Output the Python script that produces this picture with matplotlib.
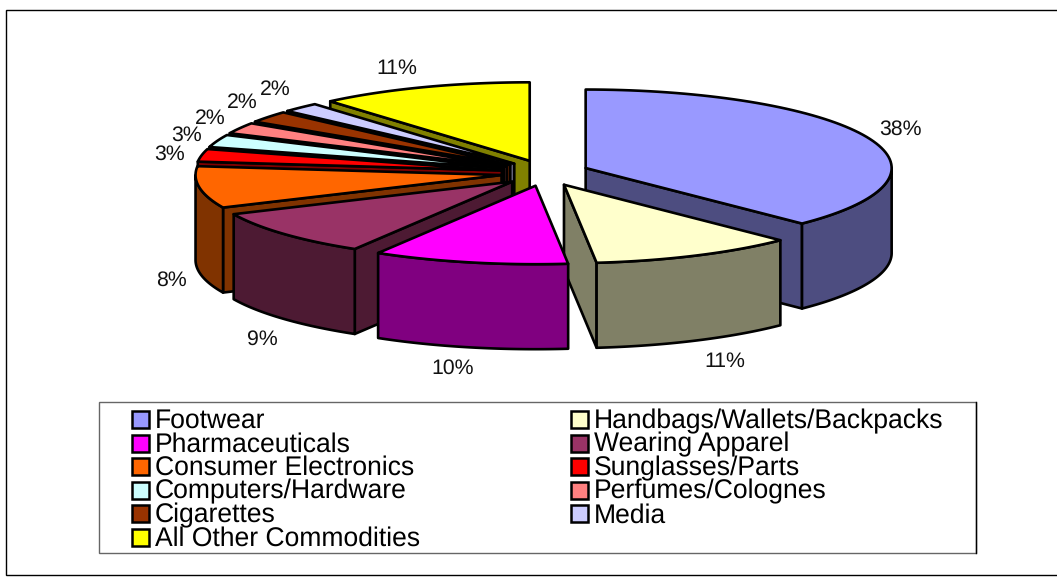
import numpy as np
import matplotlib
matplotlib.use('Agg')
import matplotlib.pyplot as plt
from matplotlib.patches import Polygon, Rectangle

plt.rcParams['font.family'] = ['Liberation Sans', 'DejaVu Sans']
plt.rcParams['text.hinting'] = 'none'

categories = ['Footwear', 'Handbags/Wallets/Backpacks', 'Pharmaceuticals', 'Wearing Apparel',
              'Consumer Electronics', 'Sunglasses/Parts', 'Computers/Hardware', 'Perfumes/Colognes',
              'Cigarettes', 'Media', 'All Other Commodities']
# printed labels, and the shares as the drawn slice angles actually read
pct_labels = [38, 11, 10, 9, 8, 3, 3, 2, 2, 2, 11]
shares = [37.5, 10.8, 10.3, 9.6, 8.6, 2.6, 2.6, 2.3, 2.4, 2.0, 11.3]
top_colors = ['#9999FF', '#FFFFCC', '#FF00FF', '#993366', '#FF6600', '#FF0000',
              '#CCFFFF', '#FF8080', '#993300', '#CCCCFF', '#FFFF00']
side_colors = ['#4D4D80', '#808066', '#800080', '#4D1A33', '#803300', '#800000',
               '#668080', '#804040', '#4D1A00', '#666680', '#808000']

# layout in image pixels
W, H = 1057, 581
cx, cy = 545, 173
rx, ry = 306, 78.5
explode_x, explode_y = 44, 13
depth = 85
label_xy = [(900, 129), (725, 361), (453, 368), (262, 339), (171, 280), (170, 154),
            (187, 135), (210, 118), (242, 102), (275, 89), (397, 68)]

fig = plt.figure(figsize=(W / 100, H / 100), dpi=100)
ax = fig.add_axes([0, 0, 1, 1])
ax.set_xlim(0, W)
ax.set_ylim(H, 0)
ax.axis('off')

# right side of the frame runs off the image
ax.add_patch(Rectangle((6, 9.5), W + 10, 565.5, fc='white', ec='black', lw=1.0))


def rim(ox, oy, a0, a1, n=80):
    # angles in degrees, clockwise from 12 o'clock
    t = np.radians(np.linspace(a0, a1, n))
    return np.column_stack([ox + rx * np.sin(t), oy - ry * np.cos(t)])


def face(pts, color, z):
    ax.add_patch(Polygon(pts, closed=True, fc=color, ec='black', lw=1.9, joinstyle='round', zorder=z))


def extrude(pts):
    low = pts[::-1] + [0, depth]
    return np.vstack([pts, low])


edges = np.cumsum([0] + shares) / sum(shares) * 360
mids = (edges[:-1] + edges[1:]) / 2

# back slices first, the front ones paint over them
order = np.argsort(-np.cos(np.radians(mids)))
for z, i in enumerate(order):
    a0, a1 = edges[i], edges[i + 1]
    m = np.radians(mids[i])
    ox = cx + explode_x * np.sin(m)
    oy = cy - explode_y * np.cos(m)
    apex = np.array([[ox, oy]])
    z0 = 2 + z * 0.1
    if np.sin(np.radians(a0)) < 0:
        face(extrude(np.vstack([apex, rim(ox, oy, a0, a0, 1)])), side_colors[i], z0)
    if np.sin(np.radians(a1)) > 0:
        face(extrude(np.vstack([apex, rim(ox, oy, a1, a1, 1)])), side_colors[i], z0)
    lo, hi = max(a0, 90), min(a1, 270)
    if lo < hi:
        face(extrude(rim(ox, oy, lo, hi)), side_colors[i], z0 + 0.01)
    face(np.vstack([apex, rim(ox, oy, a0, a1)]), top_colors[i], z0 + 0.02)

for p, (x, y) in zip(pct_labels, label_xy):
    ax.text(x, y, f'{p}%', ha='center', va='center', fontsize=15.3, color='#111111', zorder=10)

# legend box, two columns filled row by row
ax.add_patch(Rectangle((99, 402), 877, 151, fc='white', ec='#666666', lw=1.0, zorder=10))
ax.plot([976, 976], [402, 553], color='black', lw=1.0, zorder=10.5)
row_y0, row_h = 419, 23.6
for k, name in enumerate(categories):
    col, row = k % 2, k // 2
    sx = 132 if col == 0 else 571
    y = row_y0 + row * row_h
    ax.add_patch(Rectangle((sx, y - 8), 17, 17, fc=top_colors[k], ec='black', lw=1.8, zorder=11))
    ax.text(sx + 23, y + 2, name, ha='left', va='center', fontsize=19.1, color='black', zorder=11)

fig.savefig('out.png', dpi=100)
